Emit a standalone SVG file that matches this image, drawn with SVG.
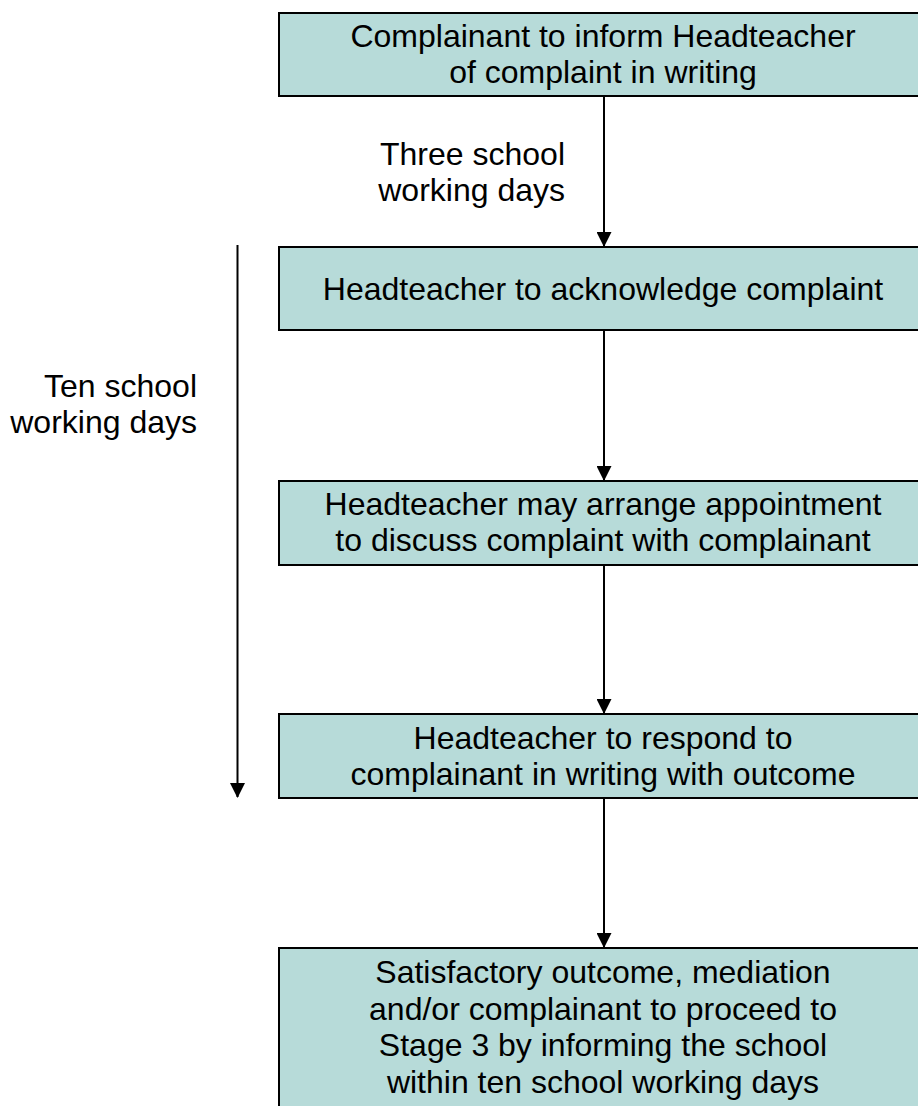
<svg xmlns="http://www.w3.org/2000/svg" width="918" height="1106" viewBox="0 0 918 1106">
<style>
.box{fill:#b7dbd9;stroke:#000;stroke-width:2}
.t{font-family:"Liberation Sans",Arial,sans-serif;font-size:32px;fill:#000}
.c{text-anchor:middle}
.e{text-anchor:end}
.ln{stroke:#000;stroke-width:2;fill:none;marker-end:url(#ah)}
</style>
<defs>
<marker id="ah" markerUnits="userSpaceOnUse" markerWidth="15" markerHeight="15" refX="14" refY="7.5" orient="auto">
<path d="M0,0 L15,7.5 L0,15 Z" fill="#000"/>
</marker>
</defs>
<rect width="918" height="1106" fill="#fff"/>
<g id="connectors">
<line class="ln" x1="604" y1="97" x2="604" y2="246"/>
<line class="ln" x1="604" y1="330" x2="604" y2="480"/>
<line class="ln" x1="604" y1="565" x2="604" y2="713"/>
<line class="ln" x1="604" y1="798" x2="604" y2="947"/>
<line class="ln" x1="237.5" y1="245" x2="237.5" y2="797"/>
</g>
<g id="label-three">
<text class="t e" x="565" y="165">Three school</text>
<text class="t e" x="565" y="201">working days</text>
</g>
<g id="label-ten">
<text class="t e" x="197" y="397">Ten school</text>
<text class="t e" x="197" y="433">working days</text>
</g>
<g id="node1">
<rect class="box" x="279" y="13" width="660" height="83"/>
<text class="t c" x="603" y="47">Complainant to inform Headteacher</text>
<text class="t c" x="603" y="83">of complaint in writing</text>
</g>
<g id="node2">
<rect class="box" x="279" y="247" width="660" height="83"/>
<text class="t c" x="603" y="300">Headteacher to acknowledge complaint</text>
</g>
<g id="node3">
<rect class="box" x="279" y="481" width="660" height="84"/>
<text class="t c" x="603" y="515">Headteacher may arrange appointment</text>
<text class="t c" x="603" y="551">to discuss complaint with complainant</text>
</g>
<g id="node4">
<rect class="box" x="279" y="714" width="660" height="84"/>
<text class="t c" x="603" y="749">Headteacher to respond to</text>
<text class="t c" x="603" y="785">complainant in writing with outcome</text>
</g>
<g id="node5">
<rect class="box" x="279" y="948" width="660" height="200"/>
<text class="t c" x="603" y="983">Satisfactory outcome, mediation</text>
<text class="t c" x="603" y="1019.5">and/or complainant to proceed to</text>
<text class="t c" x="603" y="1056">Stage 3 by informing the school</text>
<text class="t c" x="603" y="1092.5">within ten school working days</text>
</g>
</svg>
